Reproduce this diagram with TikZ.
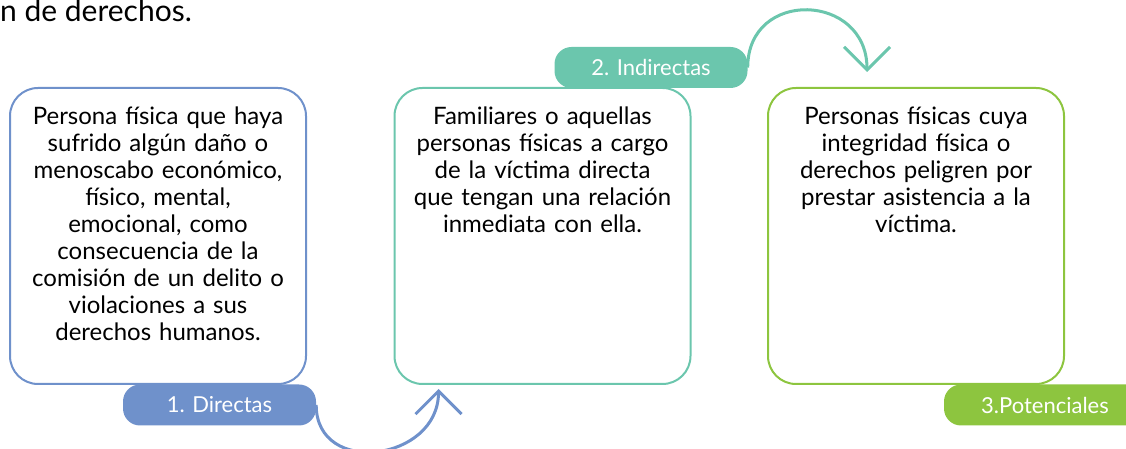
\documentclass[tikz,border=0pt]{standalone}
\usepackage{fontspec}
\setmainfont{Lato}
\usetikzlibrary{arrows.meta}
\definecolor{azul}{HTML}{6F91CB}
\definecolor{verdeagua}{HTML}{6BC6AD}
\definecolor{verde}{HTML}{8DC53F}

\begin{document}
\begin{tikzpicture}[x=1pt, y=1pt,
    caja/.style={rectangle, rounded corners=28pt, draw=#1, line width=2pt, minimum width=296pt, minimum height=296pt},
    texto/.style={anchor=north, inner sep=0pt, text width=290pt, align=center, font=\fontsize{24}{27}\selectfont},
    etiqueta/.style={rectangle, rounded corners=17pt, fill=#1, text=white, minimum width=193pt, minimum height=41pt, font=\fontsize{22}{24}\selectfont},
    flecha/.style={draw=#1, line width=3pt, -{Straight Barb[length=23pt, width=46pt]}}]
    \useasboundingbox (0, 0) rectangle (1126, 449);

    \node (encabezado) at (0, 427) [anchor=base west, inner sep=0pt, font=\fontsize{30}{34}\selectfont] {n de derechos.};

    %-----

    \node (b1) at (158, 213) [caja=azul] {};
    \node (p1) at ([yshift=-20pt]b1.north) [texto] {Persona física que haya\\ sufrido algún daño o\\ menoscabo económico,\\ físico, mental,\\ emocional, como\\ consecuencia de la\\ comisión de un delito o\\ violaciones a sus\\ derechos humanos.};
    \node (l1) at (219.5, 44) [etiqueta=azul] {1. Directas};

    %-----

    \node (b2) at (542.5, 213) [caja=verdeagua] {};
    \node (p2) at ([yshift=-20pt]b2.north) [texto] {Familiares o aquellas\\ personas físicas a cargo\\ de la víctima directa\\ que tengan una relación\\ inmediata con ella.};
    \node (l2) at (651, 381.5) [etiqueta=verdeagua] {2. Indirectas};

    %-----

    \node (b3) at (916, 213) [caja=verde] {};
    \node (p3) at ([yshift=-20pt]b3.north) [texto] {Personas físicas cuya\\ integridad física o\\ derechos peligren por\\ prestar asistencia a la\\ víctima.};
    \node (l3) at (1045, 44) [etiqueta=verde, minimum width=202pt] {3.Potenciales};

    %-----

    \coordinate (f1) at ([xshift=45pt, yshift=-4pt]b2.south west);
    \coordinate (f2) at ([xshift=100pt, yshift=15pt]b3.north west);

    \draw[flecha=azul] (l1.east) to[out=-90, in=-90, looseness=1.5] (f1);
    \draw[flecha=verdeagua] (l2.east) to[out=90, in=90, looseness=1.7] (f2);
\end{tikzpicture}
\end{document}
